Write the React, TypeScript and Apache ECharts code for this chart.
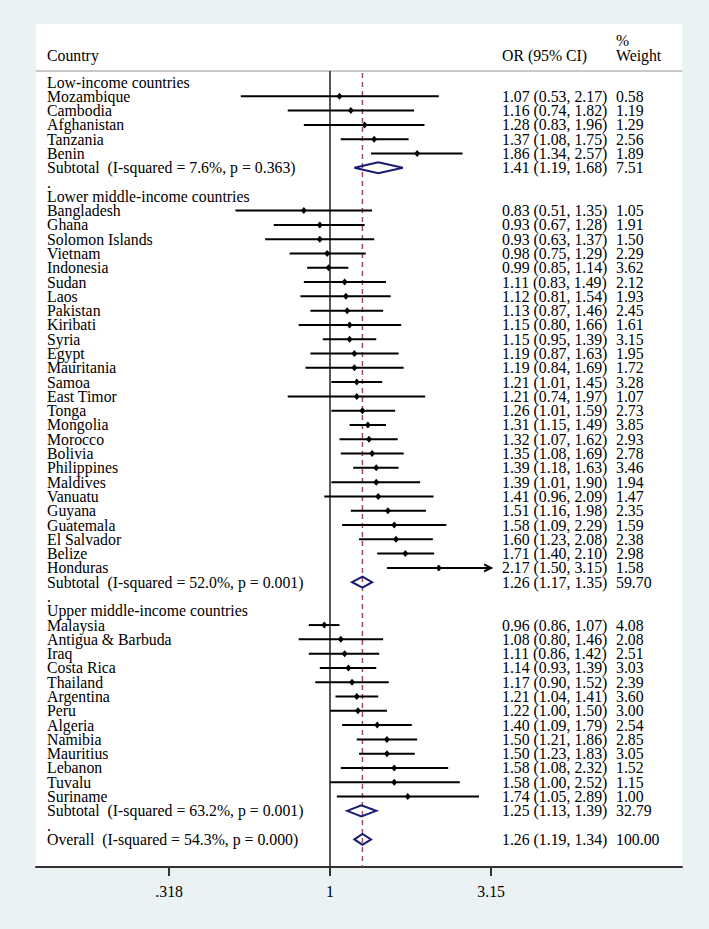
import React, { useEffect, useRef } from "react";
import * as echarts from "echarts";

// ---------- data ----------
const groupTitles = [
  "Low-income countries",
  "Lower middle-income countries",
  "Upper middle-income countries",
];

const lowCountries = ["Mozambique", "Cambodia", "Afghanistan", "Tanzania", "Benin"];
const lowOR = [1.07, 1.16, 1.28, 1.37, 1.86];
const lowLo = [0.53, 0.74, 0.83, 1.08, 1.34];
const lowHi = [2.17, 1.82, 1.96, 1.75, 2.57];
const lowWeight = [0.58, 1.19, 1.29, 2.56, 1.89];

const lmCountries = [
  "Bangladesh", "Ghana", "Solomon Islands", "Vietnam", "Indonesia", "Sudan", "Laos",
  "Pakistan", "Kiribati", "Syria", "Egypt", "Mauritania", "Samoa", "East Timor", "Tonga",
  "Mongolia", "Morocco", "Bolivia", "Philippines", "Maldives", "Vanuatu", "Guyana",
  "Guatemala", "El Salvador", "Belize", "Honduras",
];
const lmOR = [0.83, 0.93, 0.93, 0.98, 0.99, 1.11, 1.12, 1.13, 1.15, 1.15, 1.19, 1.19, 1.21, 1.21, 1.26, 1.31, 1.32, 1.35, 1.39, 1.39, 1.41, 1.51, 1.58, 1.60, 1.71, 2.17];
const lmLo = [0.51, 0.67, 0.63, 0.75, 0.85, 0.83, 0.81, 0.87, 0.80, 0.95, 0.87, 0.84, 1.01, 0.74, 1.01, 1.15, 1.07, 1.08, 1.18, 1.01, 0.96, 1.16, 1.09, 1.23, 1.40, 1.50];
const lmHi = [1.35, 1.28, 1.37, 1.29, 1.14, 1.49, 1.54, 1.46, 1.66, 1.39, 1.63, 1.69, 1.45, 1.97, 1.59, 1.49, 1.62, 1.69, 1.63, 1.90, 2.09, 1.98, 2.29, 2.08, 2.10, 3.15];
const lmWeight = [1.05, 1.91, 1.50, 2.29, 3.62, 2.12, 1.93, 2.45, 1.61, 3.15, 1.95, 1.72, 3.28, 1.07, 2.73, 3.85, 2.93, 2.78, 3.46, 1.94, 1.47, 2.35, 1.59, 2.38, 2.98, 1.58];

const umCountries = [
  "Malaysia", "Antigua & Barbuda", "Iraq", "Costa Rica", "Thailand", "Argentina", "Peru",
  "Algeria", "Namibia", "Mauritius", "Lebanon", "Tuvalu", "Suriname",
];
const umOR = [0.96, 1.08, 1.11, 1.14, 1.17, 1.21, 1.22, 1.40, 1.50, 1.50, 1.58, 1.58, 1.74];
const umLo = [0.86, 0.80, 0.86, 0.93, 0.90, 1.04, 1.00, 1.09, 1.21, 1.23, 1.08, 1.00, 1.05];
const umHi = [1.07, 1.46, 1.42, 1.39, 1.52, 1.41, 1.50, 1.79, 1.86, 1.83, 2.32, 2.52, 2.89];
const umWeight = [4.08, 2.08, 2.51, 3.03, 2.39, 3.60, 3.00, 2.54, 2.85, 3.05, 1.52, 1.15, 1.00];

const subtotalHet = ["I-squared = 7.6%, p = 0.363", "I-squared = 52.0%, p = 0.001", "I-squared = 63.2%, p = 0.001"];
const subtotalOR = [1.41, 1.26, 1.25];
const subtotalLo = [1.19, 1.17, 1.13];
const subtotalHi = [1.68, 1.35, 1.39];
const subtotalWeight = [7.51, 59.7, 32.79];

const overallHet = "I-squared = 54.3%, p = 0.000";
const overallOR = 1.26;
const overallLo = 1.19;
const overallHi = 1.34;
const overallWeight = 100.0;

const tickValues = [0.318, 1, 3.15];
const tickLabels = [".318", "1", "3.15"];

// ---------- layout / style ----------
const W = 709;
const H = 929;
const FONT_FAMILY = '"Liberation Serif", "Times New Roman", serif';
const FONT_SIZE = 15.8;
const FONT = `${FONT_SIZE}px ${FONT_FAMILY}`;
const NAME_X = 47;
const OR_X = 502;
const WT_X = 616;
const PANEL = { x: 36, y: 24, w: 646, h: 843 };
const X_MIN = -2.0937;
const X_MAX = 2.5068;
const Y_MIN = 0.23;
const Y_MAX = 55.93;
const NAVY = "#1a1a6e";
const MAROON = "#9e4b66";

type Row = {
  kind: "group" | "study" | "sub" | "blank" | "overall";
  label: string;
  or?: number;
  lo?: number;
  hi?: number;
  w?: number;
};

function buildRows(): Row[] {
  const groups = [
    [lowCountries, lowOR, lowLo, lowHi, lowWeight],
    [lmCountries, lmOR, lmLo, lmHi, lmWeight],
    [umCountries, umOR, umLo, umHi, umWeight],
  ] as [string[], number[], number[], number[], number[]][];
  const rows: Row[] = [];
  groups.forEach(([names, or, lo, hi, w], gi) => {
    rows.push({ kind: "group", label: groupTitles[gi] });
    names.forEach((n, i) =>
      rows.push({ kind: "study", label: n, or: or[i], lo: lo[i], hi: hi[i], w: w[i] })
    );
    rows.push({
      kind: "sub",
      label: `Subtotal  (${subtotalHet[gi]})`,
      or: subtotalOR[gi],
      lo: subtotalLo[gi],
      hi: subtotalHi[gi],
      w: subtotalWeight[gi],
    });
    rows.push({ kind: "blank", label: "." });
  });
  rows.push({
    kind: "overall",
    label: `Overall  (${overallHet})`,
    or: overallOR,
    lo: overallLo,
    hi: overallHi,
    w: overallWeight,
  });
  return rows;
}

const fmt = (v: number) => v.toFixed(2);

function txt(x: number, y: number, text: string) {
  return {
    type: "text",
    style: {
      x,
      y,
      text,
      font: FONT,
      fill: "#000",
      align: "left",
      verticalAlign: "middle",
      textAlign: "left",
      textVerticalAlign: "middle",
    },
  };
}

export default function App() {
  const ref = useRef<HTMLDivElement>(null);

  useEffect(() => {
    document.body.style.margin = "0";
    if (!ref.current) return;
    const chart = echarts.init(ref.current, null, { renderer: "svg", width: W, height: H });
    const rows = buildRows();
    const clipMax = Math.log(tickValues[tickValues.length - 1]);

    const rowData = rows.map((r, i) => [
      r.or != null ? Math.log(r.or) : 0,
      i + 1,
      r.lo != null ? Math.log(r.lo) : 0,
      r.hi != null ? Math.log(r.hi) : 0,
    ]);

    const option: any = {
      animation: false,
      backgroundColor: "#eaf2f3",
      grid: {
        left: PANEL.x,
        right: W - (PANEL.x + PANEL.w),
        top: 71,
        bottom: H - (PANEL.y + PANEL.h),
        containLabel: false,
      },
      xAxis: {
        type: "value",
        min: X_MIN,
        max: X_MAX,
        splitLine: { show: false },
        axisLine: { show: true, onZero: false, lineStyle: { color: "#333", width: 2 } },
        axisTick: {
          show: true,
          length: 9,
          lineStyle: { color: "#333", width: 2 },
          customValues: tickValues.map((v) => Math.log(v)),
        },
        axisLabel: {
          show: true,
          margin: 16,
          color: "#000",
          fontFamily: FONT_FAMILY,
          fontSize: FONT_SIZE,
          customValues: tickValues.map((v) => Math.log(v)),
          formatter: (val: number) => {
            let best = 0;
            tickValues.forEach((t, i) => {
              if (Math.abs(Math.log(t) - val) < Math.abs(Math.log(tickValues[best]) - val)) best = i;
            });
            return tickLabels[best];
          },
        },
      },
      yAxis: {
        type: "value",
        min: Y_MIN,
        max: Y_MAX,
        inverse: true,
        show: false,
      },
      graphic: [
        {
          type: "rect",
          z: -10,
          silent: true,
          shape: { x: PANEL.x, y: PANEL.y, width: PANEL.w, height: PANEL.h },
          style: { fill: "#ffffff" },
        },
        {
          type: "line",
          silent: true,
          shape: { x1: PANEL.x, y1: 71, x2: PANEL.x + PANEL.w, y2: 71 },
          style: { stroke: "#c8c8c8", lineWidth: 2 },
        },
        { ...txt(NAME_X, 55, "Country"), silent: true },
        { ...txt(OR_X, 55, "OR (95% CI)"), silent: true },
        { ...txt(WT_X, 40, "%"), silent: true },
        { ...txt(WT_X, 55, "Weight"), silent: true },
      ],
      series: [
        {
          type: "custom",
          name: "reference",
          coordinateSystem: "cartesian2d",
          silent: true,
          z: 1,
          data: [[0, 0], [Math.log(overallOR), 1]],
          encode: { x: 0, y: 1 },
          renderItem: (params: any, api: any) => {
            const v = api.value(0);
            const [x, yTop] = api.coord([v, Y_MIN]);
            const [, yBot] = api.coord([v, Y_MAX]);
            const dashed = params.dataIndex === 1;
            return {
              type: "line",
              shape: { x1: x, y1: dashed ? yTop + 2 : yTop, x2: x, y2: yBot },
              style: dashed
                ? { stroke: MAROON, lineWidth: 1.5, lineDash: [5, 4] }
                : { stroke: "#222", lineWidth: 1.5 },
            };
          },
        },
        {
          type: "custom",
          name: "forest",
          coordinateSystem: "cartesian2d",
          silent: true,
          z: 3,
          data: rowData,
          encode: { x: [0, 2, 3], y: 1 },
          renderItem: (params: any, api: any) => {
            const row = rows[params.dataIndex];
            const rowY = api.value(1);
            const [, y] = api.coord([0, rowY]);
            const children: any[] = [];
            children.push(txt(NAME_X, y, row.label));
            if (row.or != null) {
              const xo = api.coord([api.value(0), rowY])[0];
              const xl = api.coord([api.value(2), rowY])[0];
              const xh = api.coord([api.value(3), rowY])[0];
              children.push(txt(OR_X, y, `${fmt(row.or)} (${fmt(row.lo!)}, ${fmt(row.hi!)})`));
              children.push(txt(WT_X, y, fmt(row.w!)));
              if (row.kind === "study") {
                children.push({
                  type: "line",
                  shape: { x1: xl, y1: y, x2: xh, y2: y },
                  style: { stroke: "#000", lineWidth: 2 },
                });
                if (api.value(3) >= clipMax - 1e-9) {
                  children.push({
                    type: "polyline",
                    shape: { points: [[xh - 7, y - 3.5], [xh, y], [xh - 7, y + 3.5]] },
                    style: { stroke: "#000", lineWidth: 2, fill: null },
                  });
                }
                children.push({
                  type: "polygon",
                  shape: { points: [[xo - 3, y], [xo, y - 3.5], [xo + 3, y], [xo, y + 3.5]] },
                  style: { fill: "#000", stroke: null },
                });
              } else {
                children.push({
                  type: "polygon",
                  shape: { points: [[xl, y], [xo, y - 5.5], [xh, y], [xo, y + 5.5]] },
                  style: { fill: "none", stroke: NAVY, lineWidth: 2 },
                });
              }
            }
            return { type: "group", children };
          },
        },
      ],
    };

    chart.setOption(option);
    return () => chart.dispose();
  }, []);

  return <div ref={ref} style={{ width: W, height: H }} />;
}
